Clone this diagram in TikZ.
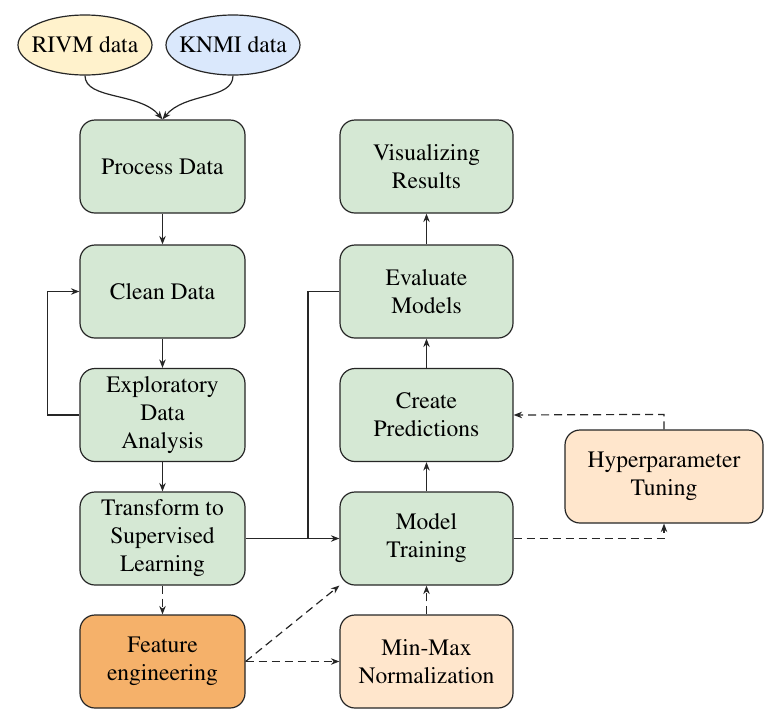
\documentclass[tikz,border=0pt]{standalone}
\usepackage[T1]{fontenc}
\usepackage{times}
\usetikzlibrary{arrows.meta, shapes.geometric}
\definecolor{boxgreen}{HTML}{D5E8D4}
\definecolor{boxyellow}{HTML}{FFF2CC}
\definecolor{boxblue}{HTML}{DAE8FC}
\definecolor{boxorange}{HTML}{F5B16A}
\definecolor{boxpeach}{HTML}{FFE6CC}
\definecolor{edgegrey}{HTML}{262626}

\begin{document}
\begin{tikzpicture}[>={Stealth[length=8.5pt, width=6.5pt]}, x=1pt, y=-1pt, line width=1.2pt, draw=edgegrey,
        txt/.style={font=\rmfamily\fontsize{23.5}{28}\selectfont, align=center, text=black},
        box/.style={txt, draw=edgegrey, rounded corners=15pt, minimum width=165pt, minimum height=93pt, fill=boxgreen},
        wbox/.style={box, minimum width=173pt},
        src/.style={txt, draw=edgegrey, ellipse, minimum width=134pt, minimum height=60pt, inner xsep=-12pt, inner ysep=0pt},
        dashline/.style={dash pattern=on 8pt off 5pt}]
        \useasboundingbox (0, 0) rectangle (784, 726);
        \node[src, fill=boxyellow] (rivm) at (85, 45) {RIVM data};
        \node[src, fill=boxblue] (knmi) at (233, 45) {KNMI data};
        \node[box] (proc) at (162.5, 166.5) {Process Data};
        \node[box] (clean) at (162.5, 291.5) {Clean Data};
        \node[box] (eda) at (162.5, 415) {Exploratory\\Data\\Analysis};
        \node[box] (trans) at (162.5, 538.5) {Transform to\\Supervised\\Learning};
        \node[box, fill=boxorange] (feat) at (162.5, 661.5) {Feature\\engineering};
        \node[wbox] (vis) at (426.5, 166.5) {Visualizing\\Results};
        \node[wbox] (eval) at (426.5, 291.5) {Evaluate\\Models};
        \node[wbox] (pred) at (426.5, 415) {Create\\Predictions};
        \node[wbox] (train) at (426.5, 538.5) {Model\\Training};
        \node[wbox, fill=boxpeach] (norm) at (426.5, 661.5) {Min-Max\\Normalization};
        \node[box, fill=boxpeach, minimum width=198pt] (hyper) at (664, 476.5) {Hyperparameter\\Tuning};
        \coordinate (join) at (308, 538.5);
        % data sources
        \draw[->] (rivm.south) .. controls (85, 100) and (140, 92) .. (proc.north);
        \draw[->] (knmi.south) .. controls (233, 100) and (185, 92) .. (proc.north);
        % left column
        \draw[->] (proc) -- (clean);
        \draw[->] (clean) -- (eda);
        \draw[->] (eda) -- (trans);
        \draw[->] (eda.west) -- ++(-32, 0) |- (clean.west);
        \draw[->, dashline] (trans) -- (feat);
        \draw[->] (trans.east) -- (train.west);
        \draw (join) |- (eval.west);
        \draw[->, dashline] (feat.east) -- (train.south west);
        \draw[->, dashline] (feat) -- (norm);
        % right column
        \draw[->, dashline] (norm) -- (train);
        \draw[->] (train) -- (pred);
        \draw[->] (pred) -- (eval);
        \draw[->] (eval) -- (vis);
        \draw[->, dashline] (train.east) -| (hyper.south);
        \draw[->, dashline] (hyper.north) -- ++(0, -15) -- (pred.east);
    \end{tikzpicture}
\end{document}
